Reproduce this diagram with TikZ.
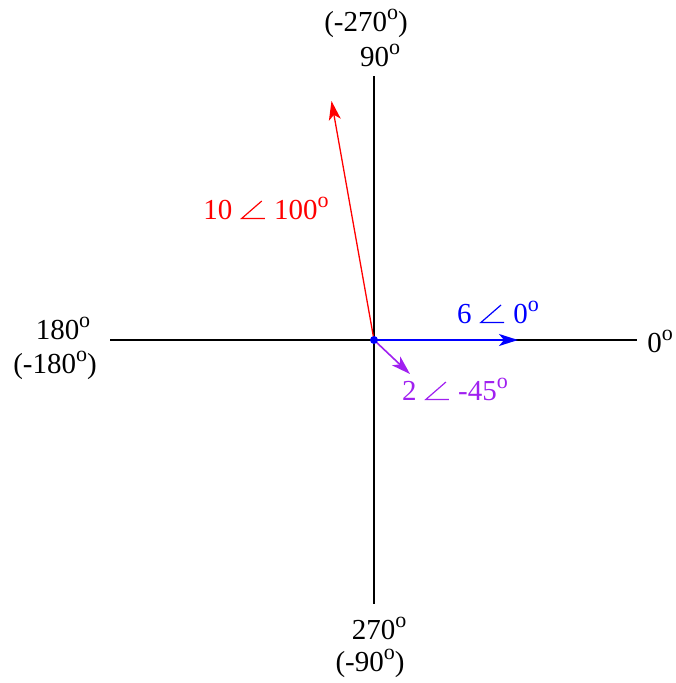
\documentclass[tikz,border=0pt]{standalone}
\usepackage{fontspec}
\setmainfont{Liberation Serif}
\usetikzlibrary{arrows.meta}
\definecolor{vpurple}{RGB}{160,32,240}
\newcommand{\ang}{\hspace{0.3em}\tikz[x=1pt,y=1pt,baseline=0pt]\draw[line width=1.2pt,line join=miter] (20,18) -- (0,0.6) -- (23,0.6);\hspace{0.3em}}
\newcommand{\dg}{\raisebox{0.40em}{\fontsize{22}{22}\selectfont o}}
\begin{document}
\begin{tikzpicture}[x=1pt,y=-1pt,
  axis/.style={line width=1.8pt,black},
  vec/.style={line width=1.6pt,-{Stealth[length=19pt,width=12pt,inset=5pt]}},
  lbl/.style={anchor=base,inner sep=0pt,font=\fontsize{29}{34}\selectfont}]
\useasboundingbox (0,0) rectangle (675,683);
\coordinate (O) at (374,340);
\coordinate (E) at (637,340);
\coordinate (W) at (110,340);
\coordinate (N) at (374,76);
\coordinate (S) at (374,604);
\coordinate (R) at (331.5,101);
\coordinate (B) at (518,340);
\coordinate (P) at (410,374);
\draw[axis] (W) -- (E);
\draw[axis] (N) -- (S);
\draw[vec,red,line width=1.3pt] (O) -- (R);
\draw[vec,blue,line width=2pt] (O) -- (B);
\draw[vec,vpurple] (O) -- (P);
\fill[blue] (O) circle (4);
\node[lbl] (n270) at (366,31) {(-270\dg)};
\node[lbl] (n90) at (380,66) {90\dg};
\node[lbl] (n180) at (63,339) {180\dg};
\node[lbl] (nm180) at (55,373) {(-180\dg)};
\node[lbl] (n0) at (660,352) {0\dg};
\node[lbl] (n270b) at (379,639) {270\dg};
\node[lbl] (nm90) at (370,671) {(-90\dg)};
\node[lbl,red] (lr) at (266,219) {10\ang100\dg};
\node[lbl,blue] (lb) at (498,323) {6\ang0\dg};
\node[lbl,vpurple] (lp) at (455,400) {2\ang-45\dg};
\end{tikzpicture}
\end{document}
